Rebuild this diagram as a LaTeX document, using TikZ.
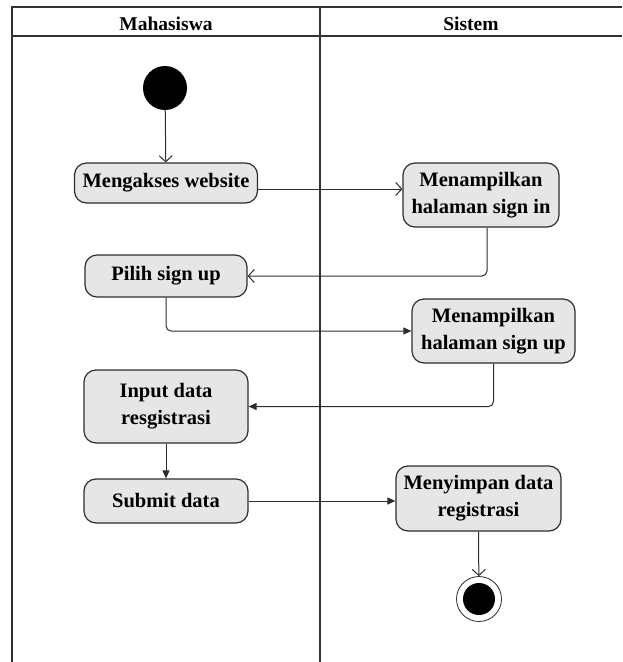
\documentclass[tikz,border=0pt]{standalone}
\usepackage{fontspec}
\setmainfont{Liberation Serif}
\usepackage{tikz}
\usetikzlibrary{arrows.meta, positioning, calc}
\definecolor{lanegray}{RGB}{50, 50, 50}
\definecolor{actfill}{RGB}{230, 230, 230}
\definecolor{actline}{RGB}{45, 45, 45}

\begin{document}
\begin{tikzpicture}[x=1pt, y=-1pt,
  actbox/.style={draw=actline, fill=actfill, rounded corners=12pt, line width=1.2pt,
    align=center, inner sep=2pt, font=\bfseries\fontsize{20.5}{27}\selectfont},
  lane/.style={draw=lanegray, line width=1.8pt},
  openflow/.style={draw=actline, line width=1pt, rounded corners=5pt, -{Straight Barb[length=6pt, width=13pt]}},
  solidflow/.style={draw=actline, line width=1pt, rounded corners=5pt, -{Triangle[length=8pt, width=7pt]}}
]
  \useasboundingbox (0,0) rectangle (622,662);

  % swimlanes
  \draw[lane] (12,662) -- (12,7) -- (622,7);
  \draw[lane] (12,36) -- (622,36);
  \draw[lane] (320,7) -- (320,662);
  \node[font=\bfseries\fontsize{19.5}{22}\selectfont] (laneA) at (166,24) {Mahasiswa};
  \node[font=\bfseries\fontsize{19.5}{22}\selectfont] (laneB) at (471,24) {Sistem};

  % start / end
  \node[circle, fill=black, minimum size=44pt, inner sep=0pt] (start) at (165,88) {};
  \node[circle, draw=actline, line width=0.8pt, minimum size=45pt, inner sep=0pt] (stop) at (479,599) {};
  \node[circle, fill=black, minimum size=32pt, inner sep=0pt] (stopdot) at (479,599) {};

  % activities
  \node[actbox, minimum width=183pt, minimum height=40pt] (akses) at (166,183) {Mengakses website};
  \node[actbox, minimum width=156pt, minimum height=64pt] (signin) at (481,195) {Menampilkan\\halaman sign in};
  \node[actbox, minimum width=162pt, minimum height=42pt] (pilih) at (166,276) {Pilih sign up};
  \node[actbox, minimum width=163pt, minimum height=64pt] (signup) at (493.5,331) {Menampilkan\\halaman sign up};
  \node[actbox, minimum width=164pt, minimum height=73pt] (input) at (166,406.5) {Input data\\resgistrasi};
  \node[actbox, minimum width=164pt, minimum height=44pt] (submit) at (166,501) {Submit data};
  \node[actbox, minimum width=165pt, minimum height=65pt] (simpan) at (478.5,498.5) {Menyimpan data\\registrasi};

  % flows
  \draw[openflow] (start) -- (akses);
  \draw[openflow] ([yshift=-6pt]akses.east) -- ([yshift=-6pt]akses.east -| signin.west);
  \draw[openflow] ([xshift=6pt]signin.south) |- (pilih.east);
  \draw[solidflow] (pilih.south) |- (signup.west);
  \draw[solidflow] (signup.south) |- (input.east);
  \draw[solidflow] (input) -- (submit);
  \draw[solidflow] (submit.east) -- (submit.east -| simpan.west);
  \draw[openflow] (simpan.south) -- (stop);
\end{tikzpicture}
\end{document}
